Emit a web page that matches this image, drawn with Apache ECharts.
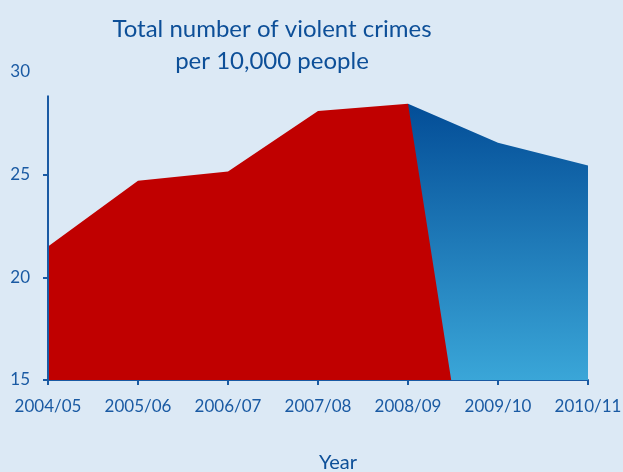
<!DOCTYPE html>
<html>
<head>
<meta charset="utf-8">
<script src="https://cdn.jsdelivr.net/npm/echarts@6/dist/echarts.min.js"></script>
<style>
  html, body { margin: 0; padding: 0; background: #dce9f5; }
  #chart { width: 623px; height: 472px; }
</style>
</head>
<body>
<div id="chart"></div>
<script>
var years = ['2004/05', '2005/06', '2006/07', '2007/08', '2008/09', '2009/10', '2010/11'];
// red part: values up to 2008/09, then a drop to the axis floor part way into 2009/10
var redValues = [21.5, 24.7, 25.15, 28.1, 28.45];
var redDropX = 4.48;
// blue part: from 2008/09 onwards
var blueValues = [28.45, 26.55, 25.45];
var blueStart = 4;
var yTicks = [15, 20, 25, 30];
var yLineTop = 28.85;

var axisBlue = '#1a5aa3';
var font = 'Lato, "Open Sans", sans-serif';

var redData = [];
for (var i = 0; i < redValues.length; i++) {
    redData.push([i, redValues[i]]);
}
redData.push([redDropX, yTicks[0]]);

var blueData = [];
for (var j = 0; j < blueValues.length; j++) {
    blueData.push([blueStart + j, blueValues[j]]);
}

var option = {
    backgroundColor: '#dce9f5',
    title: {
        text: 'Total number of violent crimes\nper 10,000 people',
        left: 267,
        textAlign: 'center',
        top: 8,
        textStyle: { color: '#0d4f98', fontSize: 24, fontWeight: 'normal', fontFamily: font, lineHeight: 32 }
    },
    grid: { left: 48, right: 35, top: 72, bottom: 92, outerBoundsMode: 'none', containLabel: false },
    xAxis: {
        type: 'value', min: 0, max: 6, interval: 1,
        name: 'Year', nameLocation: 'middle', nameGap: 73,
        nameTextStyle: { color: '#0d4f98', fontSize: 20, fontFamily: font, padding: [0, 0, 0, 40] },
        axisLine: { lineStyle: { color: axisBlue, width: 2 } },
        axisTick: { length: 5, lineStyle: { color: axisBlue, width: 2 } },
        splitLine: { show: false },
        axisLabel: {
            color: axisBlue, fontSize: 17, fontFamily: font, margin: 18,
            formatter: function (v) { return years[v] || ''; }
        }
    },
    yAxis: [
        {
            type: 'value', min: yTicks[0], max: yTicks[yTicks.length - 1], interval: 5,
            axisLine: { show: false },
            axisTick: { show: false },
            splitLine: { show: false },
            axisLabel: { color: axisBlue, fontSize: 17, fontFamily: font, margin: 18 }
        },
        {
            // same scale, only for the ticks at 15, 20 and 25 (no tick at 30)
            type: 'value', position: 'left', offset: 0,
            min: yTicks[0], max: yTicks[yTicks.length - 1], interval: 5,
            axisLine: { show: true, lineStyle: { color: 'rgba(0,0,0,0)' } },
            axisTick: { show: true, length: 5, customValues: yTicks.slice(0, 3), lineStyle: { color: axisBlue, width: 2 } },
            axisLabel: { show: false },
            splitLine: { show: false }
        }
    ],
    series: [
        {
            name: 'blue', type: 'line', data: blueData, symbol: 'none', z: 2,
            lineStyle: { width: 0 },
            areaStyle: {
                origin: 'start', opacity: 1,
                color: new echarts.graphic.LinearGradient(0, 0, 0, 1, [
                    { offset: 0, color: '#034d97' },
                    { offset: 1, color: '#3aa6d8' }
                ])
            }
        },
        {
            name: 'red', type: 'line', data: redData, symbol: 'none', z: 3,
            lineStyle: { width: 0 },
            areaStyle: { origin: 'start', opacity: 1, color: '#c00000' },
            // the y axis line stops short of the top label
            markLine: {
                silent: true, symbol: 'none', label: { show: false },
                lineStyle: { color: axisBlue, width: 2, type: 'solid' },
                data: [[{ coord: [0, yTicks[0]] }, { coord: [0, yLineTop] }]]
            }
        }
    ]
};

var myChart = echarts.init(document.getElementById('chart'));
myChart.setOption(option);
</script>
</body>
</html>
